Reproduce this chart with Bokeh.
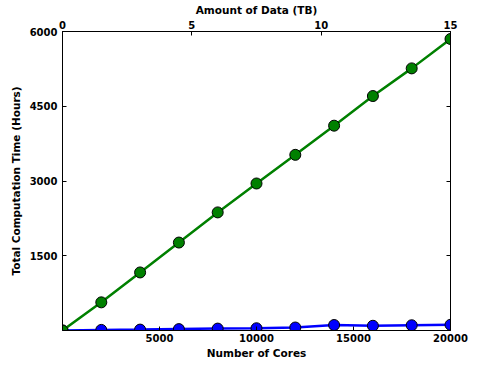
from bokeh.plotting import figure
from bokeh.models import LinearAxis, Range1d, FixedTicker
from bokeh.embed import file_html
from bokeh.resources import INLINE

# Data
cores = [0, 2000, 4000, 6000, 8000, 10000, 12000, 14000, 16000, 18000, 20000]
green_hours = [0, 565, 1165, 1765, 2370, 2950, 3525, 4110, 4705, 5260, 5850]
blue_hours = [0, 12, 18, 28, 38, 45, 60, 110, 95, 105, 115]
core_ticks = [5000, 10000, 15000, 20000]
hour_ticks = [1500, 3000, 4500, 6000]
data_ticks = [0, 5, 10, 15]

FONT = "DejaVu Sans"

p = figure(width=470, height=361,
           x_range=Range1d(0, 20000), y_range=Range1d(0, 6000),
           x_axis_type=None, y_axis_type=None,
           output_backend="svg", toolbar_location=None,
           min_border_left=62, min_border_right=20,
           min_border_top=28, min_border_bottom=28)
p.extra_x_ranges = {"data": Range1d(0, 15)}
p.grid.visible = False
p.outline_line_color = "black"
p.outline_line_width = 1
p.background_fill_color = "white"
p.border_fill_color = "white"

bottom = LinearAxis(axis_label="Number of Cores", ticker=FixedTicker(ticks=core_ticks))
left = LinearAxis(axis_label="Total Computation Time (Hours)", ticker=FixedTicker(ticks=hour_ticks))
top = LinearAxis(x_range_name="data", axis_label="Amount of Data (TB)",
                 ticker=FixedTicker(ticks=data_ticks))
right = LinearAxis(ticker=FixedTicker(ticks=hour_ticks),
                   major_label_overrides={t: "" for t in hour_ticks})
p.add_layout(bottom, "below")
p.add_layout(left, "left")
p.add_layout(top, "above")
p.add_layout(right, "right")

for ax in [bottom, left, top, right]:
    ax.major_tick_in = 4
    ax.major_tick_out = 0
    ax.minor_tick_in = 0
    ax.minor_tick_out = 0
    ax.axis_line_color = "black"
    ax.major_tick_line_color = "black"
    ax.major_label_text_font = FONT
    ax.major_label_text_font_style = "bold"
    ax.major_label_text_font_size = "10px"
    ax.major_label_text_color = "black"
    ax.major_label_standoff = 3
    ax.axis_label_text_font = FONT
    ax.axis_label_text_font_style = "bold"
    ax.axis_label_text_font_size = "10.5px"
    ax.axis_label_text_color = "black"
    ax.axis_label_standoff = 2

left.major_label_standoff = 5
left.axis_label_standoff = 5
right.major_label_standoff = 0
left.major_label_orientation = "horizontal"

p.line(cores, blue_hours, color="#0000ff", line_width=2.5)
p.scatter(cores, blue_hours, size=11, fill_color="#0000ff", line_color="black", line_width=1)
p.line(cores, green_hours, color="#008000", line_width=2.5)
p.scatter(cores, green_hours, size=11, fill_color="#008000", line_color="black", line_width=1)

open("out.html", "w").write(file_html(p, INLINE))
